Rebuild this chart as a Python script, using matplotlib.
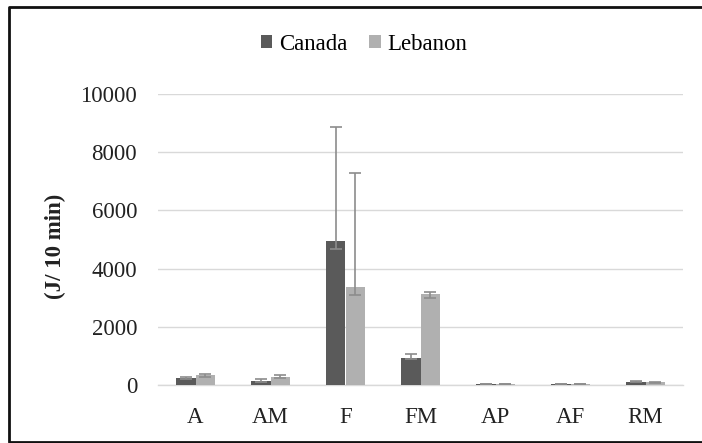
import matplotlib
matplotlib.use("Agg")
import matplotlib.pyplot as plt
import numpy as np
from matplotlib.lines import Line2D

plt.rcParams['font.family'] = ['Liberation Serif', 'DejaVu Serif']

# data
categories = ['A', 'AM', 'F', 'FM', 'AP', 'AF', 'RM']
canada = [230, 140, 4950, 940, 30, 30, 110]
lebanon = [350, 280, 3370, 3110, 30, 30, 100]
canada_err_low = [30, 50, 280, 60, 5, 5, 15]
canada_err_high = [30, 60, 3920, 110, 5, 5, 20]
lebanon_err_low = [60, 40, 280, 110, 5, 5, 15]
lebanon_err_high = [40, 70, 3900, 95, 5, 5, 20]

W, H = 702, 443
fig = plt.figure(figsize=(W / 100, H / 100), dpi=100)
ax = fig.add_axes([158 / W, (H - 385) / H, 525 / W, 291 / H])

x = np.arange(len(categories))
bw = 0.256
ekw = dict(ecolor='#8c8c8c', elinewidth=1.2, capsize=4.5, capthick=1.2)
ax.bar(x - bw / 2, canada, bw, color='#5a5a5a', label='Canada',
       yerr=[canada_err_low, canada_err_high], error_kw=ekw, zorder=3)
ax.bar(x + bw / 2, lebanon, bw, color='#b0b0b0', label='Lebanon',
       yerr=[lebanon_err_low, lebanon_err_high], error_kw=ekw, zorder=3)

ax.set_xlim(-0.5, len(categories) - 0.5)
ax.set_ylim(0, 10000)
ax.set_yticks(range(0, 10001, 2000))
ax.set_xticks(x)
ax.set_xticklabels(categories)
ax.yaxis.grid(True, color='#d9d9d9', linewidth=1, zorder=0)
ax.set_axisbelow(True)
for s in ['top', 'right', 'left']:
    ax.spines[s].set_visible(False)
ax.spines['bottom'].set_color('#d9d9d9')
ax.spines['bottom'].set_linewidth(1)
ax.tick_params(axis='both', length=0, labelsize=16.5, colors='#222222')
ax.tick_params(axis='y', pad=15)
ax.tick_params(axis='x', pad=16)

fig.text(55 / W, 1 - 246.5 / H, '(J/ 10 min)', rotation=90, ha='center',
         va='center', fontsize=16.5, fontweight='bold', color='#222222')

fig.legend(loc='center', bbox_to_anchor=(364 / W, 1 - 44 / H), ncol=2,
           frameon=False, fontsize=16.5, handlelength=0.5, handleheight=0.5,
           handletextpad=0.3, columnspacing=0.95)

# chart border: left, top and bottom only, right side is cut off
x0, y0, y1 = 9 / W, 1.5 / H, 1 - 7 / H
fig.lines.append(Line2D([1.0, x0, x0, 1.0], [y1, y1, y0, y0],
                        transform=fig.transFigure, color='#111111',
                        linewidth=2))

fig.savefig('out.png', dpi=100)
